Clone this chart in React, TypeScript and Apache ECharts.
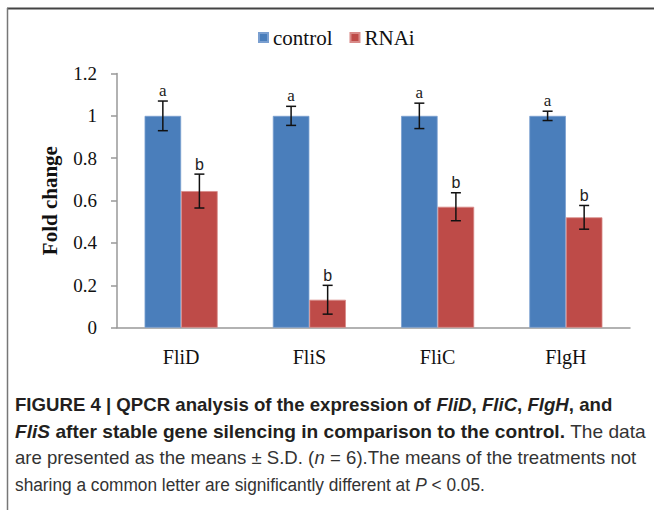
import React, { useEffect, useRef } from "react";
import * as echarts from "echarts";

const categories = ["FliD", "FliS", "FliC", "FlgH"];
const controlValues = [1, 1, 1, 1];
const controlSD = [0.07, 0.045, 0.06, 0.022];
const controlLetters = ["a", "a", "a", "a"];
const rnaiValues = [0.645, 0.132, 0.571, 0.521];
const rnaiSD = [0.08, 0.068, 0.066, 0.056];
const rnaiLetters = ["b", "b", "b", "b"];
const yTicks = { min: 0, max: 1.2, interval: 0.2 };

const captionLines = [
  "{b|FIGURE 4 | QPCR analysis of the expression of }{bi|FliD}{b|, }{bi|FliC}{b|, }{bi|FlgH}{b|, and}",
  "{bi|FliS}{b| after stable gene silencing in comparison to the control.}{r| The data}",
  "{r|are presented as the means \u00b1 S.D. (}{i|n}{r| = 6).The means of the treatments not}",
  "{r|sharing a common letter are significantly different at }{i|P}{r| < 0.05.}",
];
const captionScaleX = [1.035, 1.064, 1.033, 0.96];

const BAR_FRAC = 0.285;

function makeErrorSeries(values: number[], sds: number[], letters: string[], side: number, letterFont: string) {
  return {
    type: "custom",
    z: 10,
    coordinateSystem: "cartesian2d",
    encode: { x: 0, y: 1 },
    data: values.map((v, i) => [i, v, sds[i]]),
    renderItem: (params: any, api: any) => {
      const idx = api.value(0);
      const v = api.value(1);
      const sd = api.value(2);
      const band = api.size([1, 0])[0];
      const bw = band * BAR_FRAC;
      const cx = api.coord([idx, v])[0] + (side * bw) / 2;
      const yTop = api.coord([idx, v + sd])[1];
      const yBot = api.coord([idx, v - sd])[1];
      const cap = 5;
      const st = { stroke: "#111", lineWidth: 1.5 };
      return {
        type: "group",
        children: [
          { type: "line", shape: { x1: cx, y1: yTop, x2: cx, y2: yBot }, style: st },
          { type: "line", shape: { x1: cx - cap, y1: yTop, x2: cx + cap, y2: yTop }, style: st },
          { type: "line", shape: { x1: cx - cap, y1: yBot, x2: cx + cap, y2: yBot }, style: st },
          {
            type: "text",
            x: cx,
            y: yTop - 2,
            style: {
              text: letters[params.dataIndex],
              fill: "#222",
              font: letterFont,
              align: "center",
              verticalAlign: "bottom",
            },
          },
        ],
      };
    },
  };
}

export default function App() {
  const ref = useRef<HTMLDivElement>(null);
  useEffect(() => {
    if (!ref.current) return;
    const chart = echarts.init(ref.current, undefined, { renderer: "svg" });
    const serif = "'Liberation Serif', 'Times New Roman', serif";
    const sans = "'Liberation Sans', Arial, sans-serif";
    const fs = 18;
    const capStyle = {
      b: { fontFamily: sans, fontSize: fs, fontWeight: "bold", fill: "#231f20" },
      bi: { fontFamily: sans, fontSize: fs, fontWeight: "bold", fontStyle: "italic", fill: "#231f20" },
      r: { fontFamily: sans, fontSize: fs, fill: "#333" },
      i: { fontFamily: sans, fontSize: fs, fontStyle: "italic", fill: "#333" },
    };
    const option: any = {
      animation: false,
      backgroundColor: "#fff",
      legend: {
        top: 22,
        left: 253,
        itemWidth: 9,
        itemHeight: 9,
        itemGap: 17,
        icon: "rect",
        textStyle: { fontFamily: serif, fontSize: 21, color: "#111" },
        data: ["control", "RNAi"],
      },
      grid: { left: 117, right: 24, top: 73.5, bottom: 182.3 },
      xAxis: {
        type: "category",
        data: categories,
        axisLine: { lineStyle: { color: "#999", width: 1.5 } },
        axisTick: { length: 7, lineStyle: { color: "#999", width: 1.5 } },
        axisLabel: { fontFamily: serif, fontSize: 20, color: "#111", margin: 19 },
      },
      yAxis: {
        type: "value",
        min: yTicks.min,
        max: yTicks.max,
        interval: yTicks.interval,
        name: "Fold change",
        nameLocation: "middle",
        nameGap: 57,
        nameTextStyle: { fontFamily: serif, fontSize: 21, fontWeight: "bold", color: "#111" },
        splitLine: { show: false },
        axisLine: { show: true, lineStyle: { color: "#999", width: 1.5 } },
        axisTick: { show: true, length: 6, lineStyle: { color: "#999", width: 1.5 } },
        axisLabel: { fontFamily: serif, fontSize: 19, color: "#111", margin: 20 },
      },
      series: [
        {
          name: "control",
          type: "bar",
          data: controlValues,
          barWidth: BAR_FRAC * 100 + "%",
          barGap: "0%",
          itemStyle: { color: "#4a7ebb", borderColor: "#7a9fd0", borderWidth: 0.8 },
        },
        {
          name: "RNAi",
          type: "bar",
          data: rnaiValues,
          barWidth: BAR_FRAC * 100 + "%",
          barGap: "0%",
          itemStyle: { color: "#be4b48", borderColor: "#d88a88", borderWidth: 0.8 },
        },
        makeErrorSeries(controlValues, controlSD, controlLetters, -1, "17px " + serif),
        makeErrorSeries(rnaiValues, rnaiSD, rnaiLetters, 1, "16px " + sans),
      ],
      graphic: [
        { type: "line", shape: { x1: 7, y1: 8.5, x2: 654, y2: 8.5 }, style: { stroke: "#444", lineWidth: 2 } },
        { type: "line", shape: { x1: 7.5, y1: 8, x2: 7.5, y2: 510 }, style: { stroke: "#777", lineWidth: 1.5 } },
        ...captionLines.map((t, k) => ({
          type: "text",
          x: 15,
          y: 405 + k * 26.5,
          scaleX: captionScaleX[k],
          style: { text: t, rich: capStyle, verticalAlign: "middle", align: "left" },
        })),
      ],
    };
    chart.setOption(option);
    return () => chart.dispose();
  }, []);
  return (
    <div
      ref={ref}
      style={{ position: "absolute", left: 0, top: 0, width: 654, height: 510 }}
    />
  );
}
